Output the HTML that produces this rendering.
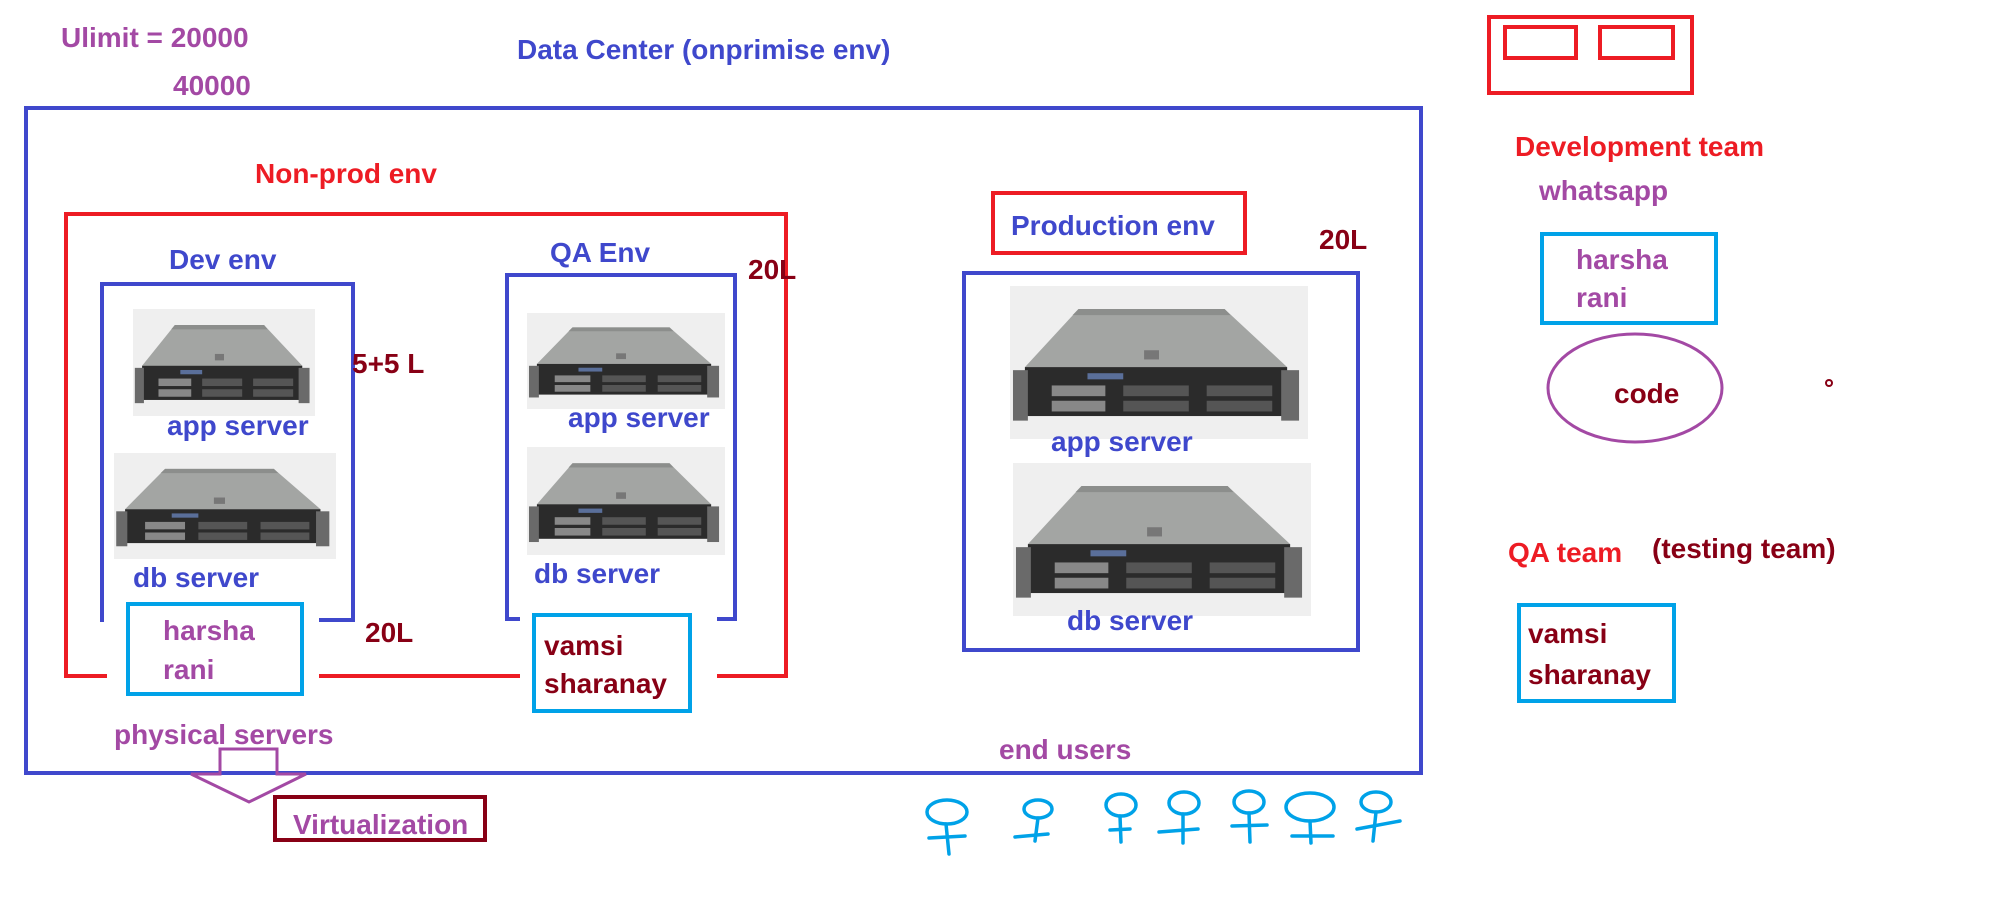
<!DOCTYPE html>
<html><head><meta charset="utf-8"><style>
html,body{margin:0;padding:0;background:#fff;}
svg{display:block;}
text{font-family:"Liberation Sans",sans-serif;font-weight:bold;font-size:28px;}
</style></head><body>
<svg width="2000" height="905" viewBox="0 0 2000 905" xmlns="http://www.w3.org/2000/svg">
<defs>
<symbol id="srv" viewBox="0 0 100 100" preserveAspectRatio="none">
<rect x="0" y="0" width="100" height="100" fill="#efefef"/>
<polygon points="23,15 72,15 93,53 5,53" fill="#a3a5a3"/>
<polygon points="23,15 72,15 74,19 21,19" fill="#8c8e8c"/>
<rect x="45" y="42" width="5" height="6" fill="#777"/>
<rect x="5" y="53" width="88" height="32" fill="#2b2b2b"/>
<rect x="1" y="55" width="5" height="33" fill="#6a6a6a"/>
<rect x="91" y="55" width="6" height="33" fill="#6a6a6a"/>
<rect x="14" y="65" width="18" height="7" fill="#888"/>
<rect x="14" y="75" width="18" height="7" fill="#888"/>
<rect x="38" y="65" width="22" height="7" fill="#555"/>
<rect x="38" y="75" width="22" height="7" fill="#555"/>
<rect x="66" y="65" width="22" height="7" fill="#555"/>
<rect x="66" y="75" width="22" height="7" fill="#555"/>
<rect x="26" y="57" width="12" height="4" fill="#5a6f9a"/>
</symbol>
</defs>

<text x="61" y="47" fill="#A349A4">Ulimit = 20000</text>
<text x="173" y="95" fill="#A349A4">40000</text>
<text x="517" y="59" fill="#3F48CC">Data Center (onprimise env)</text>

<rect x="26" y="108" width="1395" height="665" fill="none" stroke="#3F48CC" stroke-width="4"/>

<text x="255" y="183" fill="#ED1C24">Non-prod env</text>
<polyline points="107,676 66,676 66,214 786,214 786,676 717,676" fill="none" stroke="#ED1C24" stroke-width="4"/>
<line x1="319" y1="676" x2="520" y2="676" stroke="#ED1C24" stroke-width="4"/>

<text x="169" y="269" fill="#3F48CC">Dev env</text>
<polyline points="102,622 102,284 353,284 353,620 319,620" fill="none" stroke="#3F48CC" stroke-width="4"/>
<use href="#srv" x="133" y="309" width="182" height="107"/>
<text x="167" y="435" fill="#3F48CC">app server</text>
<use href="#srv" x="114" y="453" width="222" height="106"/>
<text x="133" y="587" fill="#3F48CC">db server</text>
<text x="352" y="373" fill="#880015">5+5 L</text>
<rect x="128" y="604" width="174" height="90" fill="none" stroke="#00A2E8" stroke-width="4"/>
<text x="163" y="640" fill="#A349A4">harsha</text>
<text x="163" y="679" fill="#A349A4">rani</text>
<text x="365" y="642" fill="#880015">20L</text>

<text x="550" y="262" fill="#3F48CC">QA Env</text>
<polyline points="520,619 507,619 507,275 735,275 735,619 717,619" fill="none" stroke="#3F48CC" stroke-width="4"/>
<use href="#srv" x="527" y="313" width="198" height="96"/>
<text x="568" y="427" fill="#3F48CC">app server</text>
<use href="#srv" x="527" y="447" width="198" height="108"/>
<text x="534" y="583" fill="#3F48CC">db server</text>
<text x="748" y="279" fill="#880015">20L</text>
<rect x="534" y="615" width="156" height="96" fill="none" stroke="#00A2E8" stroke-width="4"/>
<text x="544" y="655" fill="#880015">vamsi</text>
<text x="544" y="693" fill="#880015">sharanay</text>

<text x="114" y="744" fill="#A349A4">physical servers</text>
<polygon points="220,749 277,749 277,774 306,774 249,802 191,774 220,774" fill="none" stroke="#A349A4" stroke-width="3"/>
<rect x="275" y="797" width="210" height="43" fill="none" stroke="#880015" stroke-width="4"/>
<text x="293" y="834" fill="#A349A4">Virtualization</text>

<rect x="993" y="193" width="252" height="60" fill="none" stroke="#ED1C24" stroke-width="4"/>
<text x="1011" y="235" fill="#3F48CC">Production env</text>
<text x="1319" y="249" fill="#880015">20L</text>
<rect x="964" y="273" width="394" height="377" fill="none" stroke="#3F48CC" stroke-width="4"/>
<use href="#srv" x="1010" y="286" width="298" height="153"/>
<text x="1051" y="451" fill="#3F48CC">app server</text>
<use href="#srv" x="1013" y="463" width="298" height="153"/>
<text x="1067" y="630" fill="#3F48CC">db server</text>
<text x="999" y="759" fill="#A349A4">end users</text>

<g fill="none" stroke="#00A2E8" stroke-width="3.5" stroke-linecap="round">
<ellipse cx="947" cy="812" rx="20" ry="12"/><line x1="946" y1="824" x2="949" y2="854"/><line x1="929" y1="838" x2="965" y2="836"/>
<ellipse cx="1038" cy="809" rx="14" ry="9"/><line x1="1038" y1="818" x2="1035" y2="841"/><line x1="1015" y1="837" x2="1048" y2="834"/>
<ellipse cx="1121" cy="805" rx="15" ry="11"/><line x1="1120" y1="816" x2="1121" y2="842"/><line x1="1110" y1="830" x2="1130" y2="829"/>
<ellipse cx="1184" cy="803" rx="15" ry="11"/><line x1="1183" y1="814" x2="1183" y2="843"/><line x1="1159" y1="832" x2="1198" y2="829"/>
<ellipse cx="1249" cy="802" rx="15" ry="11"/><line x1="1249" y1="813" x2="1250" y2="842"/><line x1="1232" y1="826" x2="1267" y2="825"/>
<ellipse cx="1310" cy="807" rx="24" ry="14"/><line x1="1310" y1="821" x2="1311" y2="843"/><line x1="1292" y1="836" x2="1333" y2="836"/>
<ellipse cx="1376" cy="802" rx="15" ry="10"/><line x1="1376" y1="812" x2="1373" y2="841"/><line x1="1357" y1="829" x2="1400" y2="821"/>
</g>

<rect x="1489" y="17" width="203" height="76" fill="none" stroke="#ED1C24" stroke-width="4"/>
<rect x="1505" y="27" width="71" height="31" fill="none" stroke="#ED1C24" stroke-width="4"/>
<rect x="1600" y="27" width="73" height="31" fill="none" stroke="#ED1C24" stroke-width="4"/>
<text x="1515" y="156" fill="#ED1C24">Development team</text>
<text x="1539" y="200" fill="#A349A4">whatsapp</text>
<rect x="1542" y="234" width="174" height="89" fill="none" stroke="#00A2E8" stroke-width="4"/>
<text x="1576" y="269" fill="#A349A4">harsha</text>
<text x="1576" y="307" fill="#A349A4">rani</text>
<ellipse cx="1635" cy="388" rx="87" ry="54" fill="none" stroke="#A349A4" stroke-width="3"/>
<text x="1614" y="403" fill="#880015">code</text>
<circle cx="1829" cy="383" r="3" fill="none" stroke="#880015" stroke-width="2"/>
<text x="1508" y="562" fill="#ED1C24">QA team</text>
<text x="1652" y="558" fill="#880015">(testing team)</text>
<rect x="1519" y="605" width="155" height="96" fill="none" stroke="#00A2E8" stroke-width="4"/>
<text x="1528" y="643" fill="#880015">vamsi</text>
<text x="1528" y="684" fill="#880015">sharanay</text>
</svg>
</body></html>
